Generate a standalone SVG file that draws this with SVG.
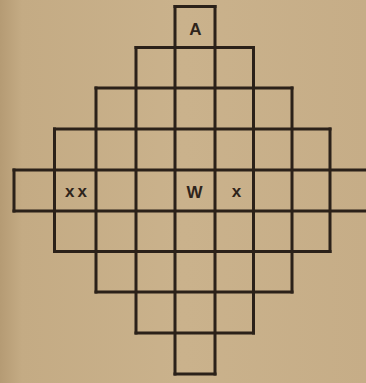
<svg xmlns="http://www.w3.org/2000/svg" width="366" height="383" viewBox="0 0 366 383">
<defs>
<linearGradient id="bg" x1="0" y1="0" x2="1" y2="0">
<stop offset="0" stop-color="#b59b74"/>
<stop offset="0.06" stop-color="#c4ab84"/>
<stop offset="0.5" stop-color="#cab28c"/>
<stop offset="1" stop-color="#c6ad87"/>
</linearGradient>
<style>
.grid{fill:none;stroke:#2b2119;stroke-width:3;stroke-linecap:square}
.lbl{font-family:"Liberation Sans",Arial,sans-serif;font-weight:bold;font-size:17px;fill:#2e241b;text-anchor:middle}
</style>
</defs>
<rect width="366" height="383" fill="url(#bg)"/>
<g id="grid" class="grid">
<path d="M175 6.5H215M136 47.5H253.5M96 88H292M54.5 129H330M14 170H370M14 211H370M54.5 251.5H330M96 292H292M136 333H253.5M175 374H215"/>
<path d="M14 170V211M54.5 129V251.5M96 88V292M136 47.5V333M175 6.5V374M215 6.5V374M253.5 47.5V333M292 88V292M330 129V251.5"/>
</g>
<g id="labels">
<text class="lbl" x="195.5" y="35">A</text>
<text class="lbl" x="194.5" y="197.5">W</text>
<text class="lbl" x="236.5" y="197">x</text>
<text class="lbl" x="77.5" y="197" letter-spacing="3">xx</text>
</g>
</svg>
